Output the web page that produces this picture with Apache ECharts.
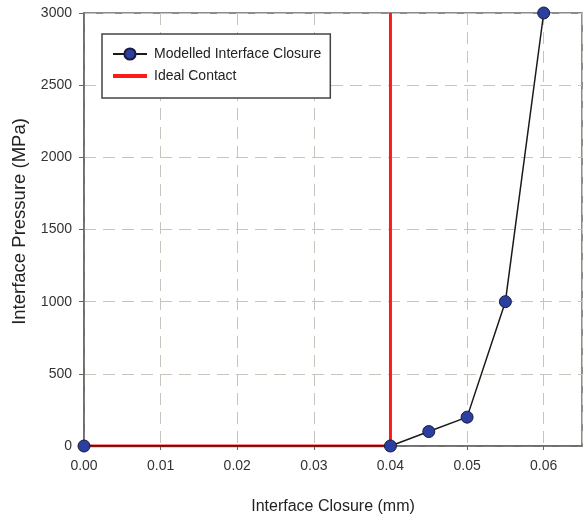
<!DOCTYPE html>
<html><head><meta charset="utf-8">
<script src="https://cdn.jsdelivr.net/npm/echarts@6/dist/echarts.min.js"></script>
<style>html,body{margin:0;padding:0;background:#fff}#c{width:583px;height:521px}</style>
</head><body><div id="c"></div>
<script>
var closureX = [0, 0.04, 0.045, 0.05, 0.055, 0.06];
var pressure = [0, 0, 100, 200, 1000, 3000];
var idealX = [0, 0.04, 0.04];
var idealY = [0, 0, 3000];
var xTicks = [0, 0.01, 0.02, 0.03, 0.04, 0.05, 0.06];
var yTicks = [0, 500, 1000, 1500, 2000, 2500, 3000];

var font = 'Liberation Sans, Arial, sans-serif';
var gridDash = {color: '#c8c4bc', type: [12, 7], width: 1};
var chart = echarts.init(document.getElementById('c'));
chart.setOption({
  animation: false,
  backgroundColor: '#fff',
  grid: {left: 84, right: 1, top: 13, bottom: 75, show: true, borderColor: '#666', borderWidth: 1.5, containLabel: false},
  legend: {
    left: 102, top: 34, orient: 'vertical',
    padding: [13, 9, 15, 9], itemGap: 8, itemWidth: 34, itemHeight: 14,
    backgroundColor: '#fff', borderColor: '#444', borderWidth: 1.5,
    textStyle: {fontFamily: font, fontSize: 14, color: '#222', padding: [0, 0, 0, 2]},
    data: [
      {name: 'Modelled Interface Closure'},
      {name: 'Ideal Contact', itemStyle: {opacity: 0}, lineStyle: {width: 4}}
    ]
  },
  xAxis: {
    type: 'value', min: 0, max: 0.065, interval: 0.01,
    name: 'Interface Closure (mm)', nameLocation: 'middle', nameGap: 53,
    nameTextStyle: {fontFamily: font, fontSize: 16, color: '#222'},
    axisLine: {lineStyle: {color: '#666', width: 1.5}},
    axisTick: {show: true, length: 4, inside: false, lineStyle: {color: '#666'}},
    axisLabel: {fontFamily: font, fontSize: 14, color: '#333', margin: 13, showMaxLabel: false,
      formatter: function (v) { return xTicks.indexOf(Math.round(v*100)/100) >= 0 ? v.toFixed(2) : ''; }},
    splitLine: {show: true, lineStyle: gridDash}
  },
  yAxis: {
    type: 'value', min: 0, max: 3000, interval: 500,
    name: 'Interface Pressure (MPa)', nameLocation: 'middle', nameGap: 55,
    nameTextStyle: {fontFamily: font, fontSize: 18.5, color: '#222', padding: [0, 0, 0, 16]},
    axisLine: {show: true, lineStyle: {color: '#666', width: 1.5}},
    axisTick: {show: true, length: 5, lineStyle: {color: '#666'}},
    axisLabel: {fontFamily: font, fontSize: 14, color: '#333', margin: 12,
      formatter: function (v) { return yTicks.indexOf(v) >= 0 ? String(v) : ''; }},
    splitLine: {show: true, lineStyle: gridDash}
  },
  series: [
    {
      name: 'Modelled Interface Closure', type: 'line',
      data: closureX.map(function (x, i) { return [x, pressure[i]]; }),
      symbol: 'circle', symbolSize: 12, showAllSymbol: true,
      lineStyle: {color: '#1a1a1a', width: 1.5},
      itemStyle: {color: '#2a3fa0', borderColor: '#1a1a3a', borderWidth: 1},
      z: 3
    },
    {
      name: 'Ideal Contact', type: 'line',
      data: idealX.map(function (x, i) { return [x, idealY[i]]; }),
      showSymbol: false, symbol: 'none',
      lineStyle: {color: '#ff1a1a', width: 3},
      itemStyle: {color: '#ff1a1a'},
      z: 2
    }
  ]
});
</script></body></html>
